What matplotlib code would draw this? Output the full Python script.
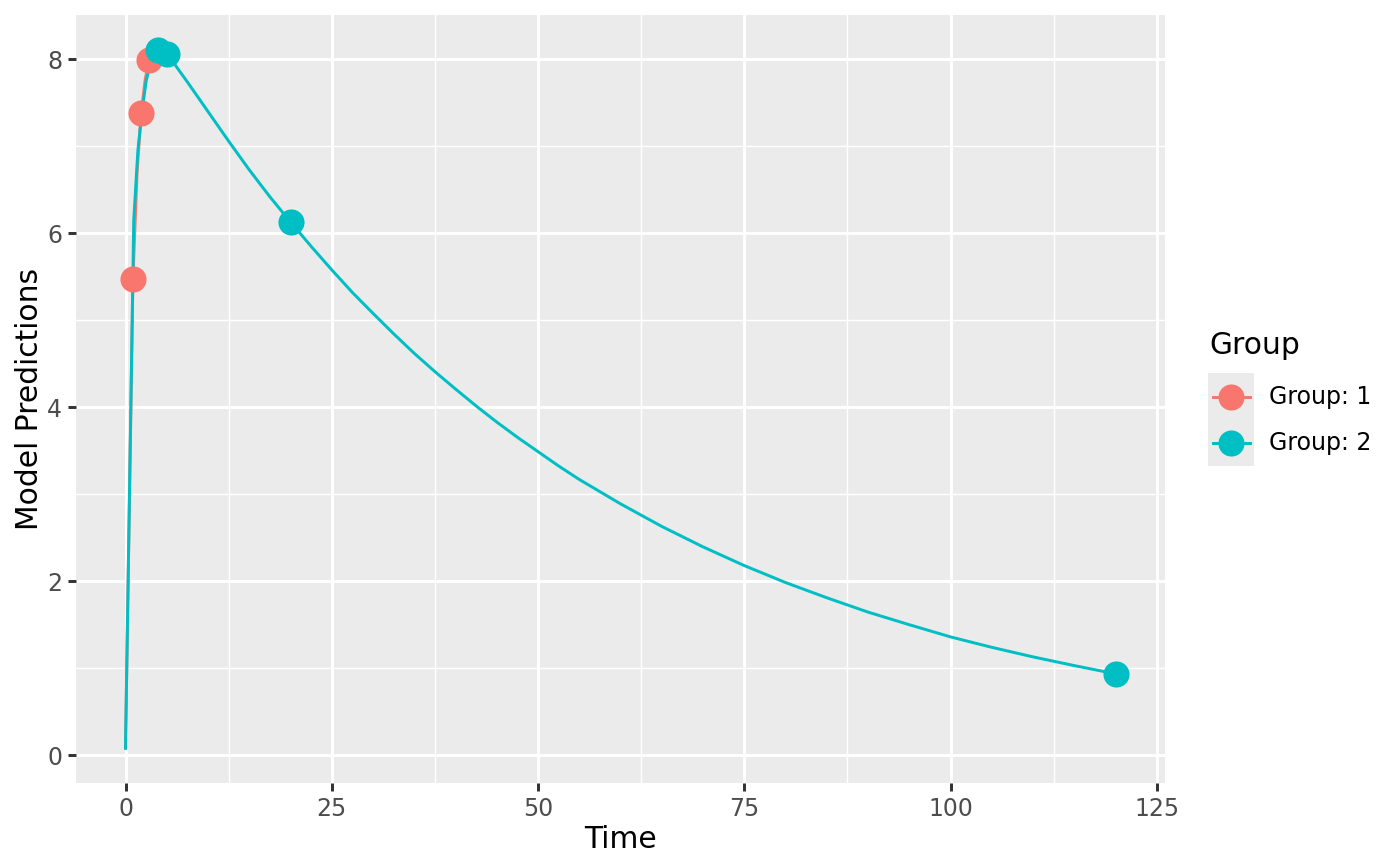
import matplotlib
matplotlib.use("Agg")
import matplotlib.pyplot as plt
from matplotlib.patches import Rectangle
from matplotlib.lines import Line2D

# ---- data ----
groups = ["Group: 1", "Group: 2"]
colors = ["#F8766D", "#00BFC4"]

line1_t = [0, 0.9, 1.4, 1.9, 2.4, 2.9]
line1_y = [0.08, 5.47, 6.70, 7.38, 7.78, 7.99]

line2_t = [0, 1.0, 1.5, 2.0, 2.5, 3.0, 3.5, 4.0, 5.0, 7.5, 10, 12.5, 15, 17.5, 20,
           22.5, 25, 27.5, 30, 32.5, 35, 37.5, 40, 42.5, 45, 47.5, 50, 52.5, 55, 57.5, 60,
           65, 70, 75, 80, 85, 90, 95, 100, 105, 110, 115, 120]
line2_y = [0.08, 6.15, 6.95, 7.40, 7.75, 7.95, 8.06, 8.11, 8.07, 7.74, 7.40, 7.06, 6.73, 6.42, 6.13,
           5.85, 5.58, 5.32, 5.08, 4.845, 4.62, 4.41, 4.21, 4.015, 3.83, 3.655, 3.49, 3.325, 3.17, 3.03, 2.89,
           2.63, 2.395, 2.18, 1.985, 1.81, 1.645, 1.50, 1.36, 1.24, 1.13, 1.03, 0.935]

pts1_t = [0.9, 1.9, 2.9]
pts1_y = [5.47, 7.38, 7.99]
pts2_t = [3.9, 5.0, 20, 120]
pts2_y = [8.11, 8.06, 6.13, 0.93]

xticks = [0, 25, 50, 75, 100, 125]
yticks = [0, 2, 4, 6, 8]
xlabel = "Time"
ylabel = "Model Predictions"
legend_title = "Group"

# ---- figure ----
W, H = 1400, 866
fig = plt.figure(figsize=(7, 4.33), dpi=200)
ax = fig.add_axes([76 / W, 1 - 783 / H, (1165 - 76) / W, (783 - 15) / H])
ax.set_facecolor("#EBEBEB")
for s in ax.spines.values():
    s.set_visible(False)

ax.set_xlim(-6.0, 126.0)
ax.set_ylim(-0.32, 8.51)
ax.set_xticks(xticks)
ax.set_yticks(yticks)
ax.set_xticks([12.5, 37.5, 62.5, 87.5, 112.5], minor=True)
ax.set_yticks([1, 3, 5, 7], minor=True)
ax.grid(which="major", color="white", linewidth=1.07)
ax.grid(which="minor", color="white", linewidth=0.53)
ax.set_axisbelow(True)
ax.tick_params(which="major", length=2.75, width=1.07, color="#333333",
               labelsize=8.5, labelcolor="#4D4D4D", pad=2.2)
ax.tick_params(which="minor", length=0)

ax.plot(line1_t, line1_y, color=colors[0], linewidth=1.07, zorder=3)
ax.plot(line2_t, line2_y, color=colors[1], linewidth=1.07, zorder=3)
ax.plot(pts1_t, pts1_y, "o", color=colors[0], markersize=9.4, markeredgewidth=0, zorder=4)
ax.plot(pts2_t, pts2_y, "o", color=colors[1], markersize=9.4, markeredgewidth=0, zorder=4)

ax.set_xlabel(xlabel, fontsize=10.7, color="black", labelpad=1.5)
ax.set_ylabel(ylabel, fontsize=10.7, color="black", labelpad=1.0)

# ---- legend (ggplot style) ----
fig.text(1209 / W, 1 - 346 / H, legend_title, fontsize=10.7, ha="left", va="center")
bg = Rectangle((1208 / W, 1 - 466 / H), (1254 - 1208) / W, (466 - 373) / H,
               transform=fig.transFigure, facecolor="#EBEBEB", edgecolor="none")
fig.patches.append(bg)
key_y = [397, 443]
for g, c, ky in zip(groups, colors, key_y):
    yy = 1 - ky / H
    fig.add_artist(Line2D([1213 / W, 1250 / W], [yy, yy], transform=fig.transFigure,
                          color=c, linewidth=1.07))
    fig.add_artist(Line2D([1231 / W], [yy], transform=fig.transFigure, marker="o",
                          color=c, markersize=9.4, markeredgewidth=0, linestyle="none"))
    fig.text(1269 / W, yy, g, fontsize=8.5, ha="left", va="center")

fig.savefig("out.png", dpi=200)
